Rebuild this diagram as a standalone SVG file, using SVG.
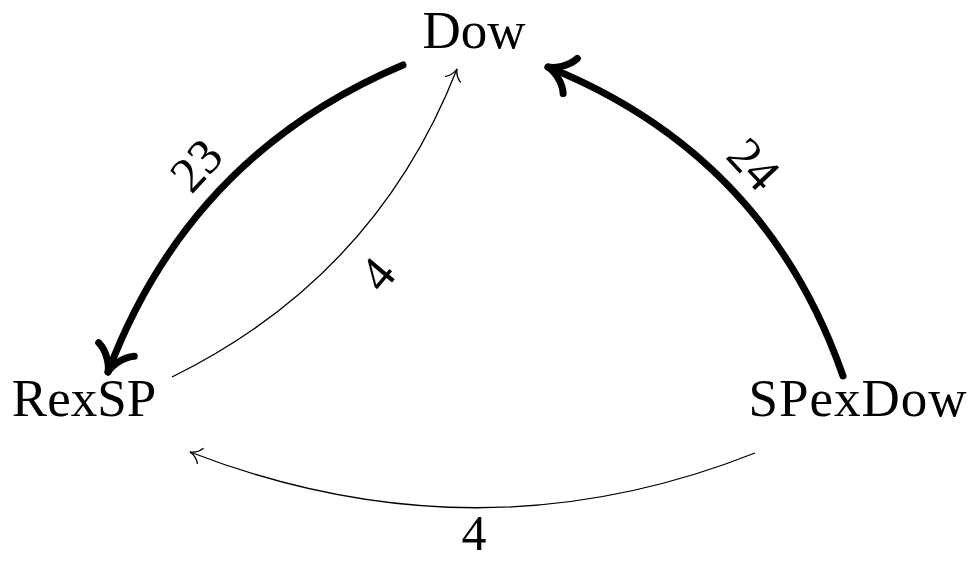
<svg xmlns="http://www.w3.org/2000/svg" width="972" height="562" viewBox="0 0 972 562">
<defs>
<style>
.node{font-family:"Liberation Serif","DejaVu Serif",serif;font-size:53px;fill:#000;text-anchor:middle}
.lbl{font-family:"Liberation Serif","DejaVu Serif",serif;font-size:50px;fill:#000;text-anchor:middle}
.thick{fill:none;stroke:#000;stroke-width:7;stroke-linecap:round}
.thin{fill:none;stroke:#000;stroke-width:1.3}
</style>
<marker id="ahThick" markerUnits="userSpaceOnUse" orient="auto" refX="0" refY="0" markerWidth="60" markerHeight="60" overflow="visible">
<path d="M -24,-19 C -19,-8 -6,-1 0,0 C -6,1 -19,8 -24,19" fill="none" stroke="#000" stroke-width="7" stroke-linecap="round" stroke-linejoin="round"/>
</marker>
<marker id="ahThin" markerUnits="userSpaceOnUse" orient="auto" refX="0" refY="0" markerWidth="30" markerHeight="30" overflow="visible">
<path d="M -11,-8 C -8,-3 -2.5,-0.6 0,0 C -2.5,0.6 -8,3 -11,8" fill="none" stroke="#000" stroke-width="1.3" stroke-linecap="round"/>
</marker>
</defs>
<rect width="972" height="562" fill="#fff"/>
<g id="connectors">
<path class="thick" d="M 403,65 Q 190,155 108,372" marker-end="url(#ahThick)"/>
<path class="thick" d="M 843,376 Q 766,155 548,67" marker-end="url(#ahThick)"/>
<path class="thin" d="M 172,377 Q 375.5,277 457,69" marker-end="url(#ahThin)"/>
<path class="thin" d="M 755,453 Q 477,563 190,452" marker-end="url(#ahThin)"/>
<text class="lbl" transform="translate(196,165) rotate(-47)" y="17">23</text>
<text class="lbl" transform="translate(754,164) rotate(47)" y="17">24</text>
<text class="lbl" transform="translate(377,274) rotate(-50)" y="17">4</text>
<text class="lbl" x="474" y="550">4</text>
</g>
<g id="node-Dow"><text class="node" x="474" y="48">Dow</text></g>
<g id="node-RexSP"><text class="node" x="84" y="416">RexSP</text></g>
<g id="node-SPexDow"><text class="node" x="858" y="416" letter-spacing="1">SPexDow</text></g>
</svg>
